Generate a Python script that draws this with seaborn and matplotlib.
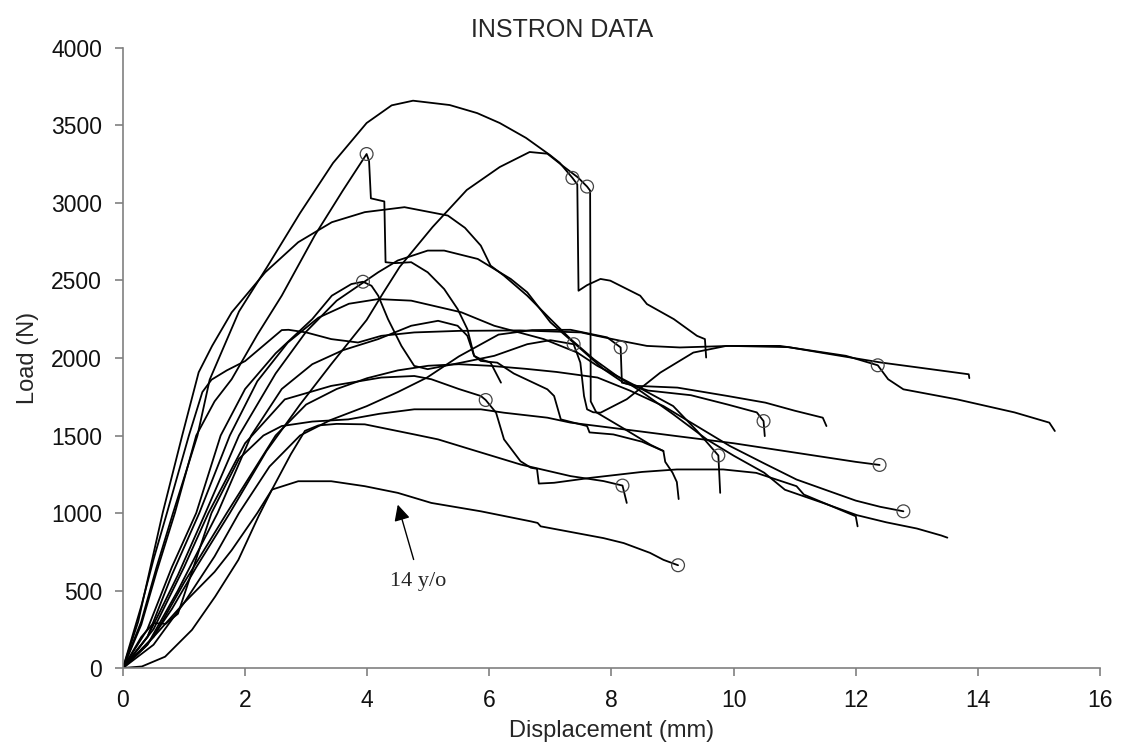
import numpy as np
import pandas as pd
import seaborn as sns
import matplotlib.pyplot as plt

# Curvas carga x deslocamento (mm, N)
curva_a = [(0, 0), (0.3, 300), (0.55, 650), (0.82, 1000), (1.22, 1500), (1.42, 1860), (1.9, 2300),
           (2.36, 2587), (2.9, 2935), (3.44, 3258), (3.99, 3516), (4.4, 3630), (4.75, 3660),
           (5.35, 3632), (5.8, 3580), (6.17, 3516), (6.6, 3420), (6.99, 3310), (7.15, 3260),
           (7.36, 3162), (7.44, 3120), (7.46, 2434), (7.6, 2470), (7.82, 2510), (7.98, 2499),
           (8.47, 2402), (8.58, 2348), (9.02, 2251), (9.4, 2143), (9.53, 2122), (9.55, 2003)]
curva_b = [(0, 0), (0.3, 280), (0.55, 620), (0.85, 1000), (1.2, 1500), (1.5, 1720), (1.78, 1863),
           (2.2, 2150), (2.6, 2402), (3.14, 2790), (3.6, 3080), (3.99, 3316), (4.03, 3270),
           (4.06, 3030), (4.28, 3010), (4.3, 2618), (4.45, 2612), (4.72, 2618), (4.99, 2553),
           (5.26, 2445), (5.48, 2316), (5.64, 2186), (5.75, 2014), (5.86, 1992), (6.02, 1970),
           (6.19, 1841)]
curva_c = [(0, 0), (0.4, 150), (0.8, 380), (1.2, 650), (1.75, 1000), (2.35, 1400), (2.9, 1700),
           (3.41, 1960), (3.99, 2245), (4.26, 2419), (4.53, 2587), (4.8, 2716), (5.07, 2845),
           (5.63, 3084), (6.17, 3232), (6.66, 3329), (6.95, 3318), (7.2, 3240), (7.45, 3165),
           (7.6, 3106), (7.65, 3080), (7.66, 1720), (7.75, 1650), (8.2, 1545), (8.64, 1440),
           (8.85, 1400)]
curva_d = [(0, 0), (0.25, 300), (0.45, 650), (0.65, 1000), (0.97, 1500), (1.24, 1908), (1.46, 2078),
           (1.78, 2294), (2.33, 2553), (2.87, 2747), (3.42, 2876), (3.96, 2941), (4.61, 2973),
           (5.32, 2919), (5.6, 2840), (5.86, 2725), (6.02, 2596), (6.24, 2531), (6.62, 2402),
           (7.0, 2251), (7.33, 2122), (7.71, 1992), (8.09, 1884), (8.5, 1780), (9.0, 1640),
           (9.56, 1475), (10.0, 1370), (10.5, 1260), (10.84, 1150), (11.5, 1060), (12.02, 986),
           (12.5, 940), (13.0, 900), (13.4, 855), (13.5, 841)]
curva_e = [(0, 0), (0.4, 200), (0.9, 600), (1.35, 1000), (1.9, 1500), (2.5, 1900), (3.0, 2170),
           (3.5, 2370), (4.18, 2553), (4.5, 2629), (4.99, 2693), (5.26, 2693), (5.81, 2639),
           (6.35, 2510), (6.62, 2424), (7.0, 2230), (7.44, 2078), (7.87, 1928), (8.2, 1840),
           (8.6, 1790), (9.3, 1760), (9.9, 1700), (10.38, 1649), (10.49, 1593), (10.51, 1496)]
curva_g = [(0, 0), (0.4, 150), (0.9, 500), (1.55, 1000), (2.1, 1500), (2.6, 1800), (3.1, 1960),
           (3.6, 2050), (4.18, 2122), (4.72, 2208), (5.16, 2240), (5.48, 2208), (5.64, 2143),
           (5.75, 2014), (5.86, 1981), (6.13, 1970), (6.4, 1900), (6.95, 1798), (7.06, 1755),
           (7.17, 1604), (7.6, 1561), (7.64, 1520), (8.03, 1507), (8.5, 1460), (8.85, 1400),
           (8.88, 1330), (9.0, 1260), (9.07, 1200), (9.1, 1090)]
curva_h = [(0, 0), (0.4, 250), (0.8, 650), (1.2, 1000), (1.6, 1500), (2.0, 1800), (2.5, 2030),
           (3.1, 2251), (3.42, 2402), (3.74, 2477), (3.93, 2492), (4.07, 2466), (4.18, 2402),
           (4.34, 2251), (4.56, 2078), (4.77, 1949), (4.99, 1928), (5.54, 1970), (6.08, 2014),
           (6.62, 2089), (7.0, 2115), (7.38, 2089), (7.49, 1970), (7.55, 1755), (7.6, 1669),
           (7.7, 1650), (7.82, 1647), (8.25, 1734), (8.8, 1906), (9.34, 2035), (9.88, 2078),
           (10.76, 2078), (11.84, 2014), (12.36, 1953), (12.53, 1863), (12.78, 1798),
           (13.66, 1733), (14.6, 1649), (15.17, 1583), (15.26, 1529)]
curva_i = [(0, 0), (0.3, 400), (0.5, 700), (0.72, 1000), (1.08, 1500), (1.3, 1780), (1.45, 1860),
           (1.7, 1920), (2.0, 1980), (2.3, 2080), (2.6, 2180), (2.71, 2182), (3.0, 2165),
           (3.41, 2122), (3.85, 2100), (4.23, 2143), (4.77, 2165), (5.5, 2175), (6.5, 2178),
           (7.5, 2165), (7.76, 2143), (8.15, 2111), (8.58, 2078), (9.12, 2068), (9.94, 2078),
           (10.9, 2070), (11.5, 2030), (12.41, 1971), (13.0, 1940), (13.85, 1895), (13.86, 1870)]
curva_j = [(0, 0), (0.4, 200), (0.8, 600), (1.25, 1000), (1.75, 1500), (2.2, 1850), (2.7, 2100),
           (3.2, 2260), (3.7, 2350), (4.18, 2380), (4.72, 2370), (5.54, 2295), (6.08, 2208),
           (6.89, 2122), (7.44, 2035), (7.77, 1949), (8.4, 1820), (9.01, 1690), (9.4, 1530),
           (9.75, 1371), (9.78, 1130)]
curva_m = [(0, 0), (0.5, 150), (1.0, 420), (1.5, 720), (1.9, 1000), (2.4, 1300), (2.9, 1500),
           (3.4, 1600), (3.99, 1689), (4.5, 1780), (4.98, 1874), (5.5, 2010), (6.15, 2151),
           (6.7, 2180), (7.33, 2182), (7.93, 2133), (8.15, 2068), (8.17, 1841), (8.42, 1820),
           (9.08, 1809), (9.9, 1755), (10.52, 1712), (11.0, 1660), (11.46, 1615), (11.52, 1561)]
curva_n = [(0, 0), (0.5, 200), (1.0, 550), (1.7, 1000), (2.5, 1500), (3.0, 1700), (3.5, 1800),
           (4.0, 1870), (4.5, 1920), (5.0, 1950), (5.5, 1960), (6.0, 1950), (6.6, 1930),
           (7.1, 1910), (7.77, 1874), (8.3, 1790), (8.85, 1690), (9.4, 1560), (9.94, 1432),
           (10.5, 1320), (11.03, 1216), (11.5, 1150), (12.0, 1080), (12.4, 1040), (12.78, 1011)]
curva_p = [(0, 0), (0.5, 250), (1.0, 650), (1.4, 1000), (2.0, 1450), (2.65, 1733), (3.41, 1820),
           (4.23, 1874), (4.77, 1884), (5.05, 1863), (5.5, 1800), (5.86, 1755), (5.94, 1729),
           (6.11, 1647), (6.24, 1475), (6.51, 1334), (6.68, 1292), (6.78, 1285), (6.81, 1190),
           (7.06, 1195), (7.66, 1227), (8.5, 1265), (9.07, 1281), (9.83, 1281), (10.37, 1259),
           (11.03, 1173), (11.15, 1119), (12.0, 979), (12.03, 914)]
curva_q = [(0, 0), (0.3, 200), (0.5, 290), (0.7, 285), (0.9, 350), (1.45, 1000), (1.9, 1350),
           (2.3, 1500), (2.6, 1561), (3.1, 1590), (3.69, 1604), (4.2, 1640), (4.77, 1669),
           (5.86, 1669), (6.24, 1647), (6.95, 1615), (7.33, 1583), (8.42, 1529), (9.07, 1496),
           (10.0, 1450), (11.0, 1390), (12.0, 1330), (12.39, 1310)]
curva_r = [(0, 0), (0.5, 200), (1.0, 420), (1.5, 620), (1.78, 760), (2.2, 1000), (2.44, 1151),
           (2.75, 1380), (2.98, 1530), (3.2, 1565), (3.5, 1575), (3.96, 1572), (4.77, 1507),
           (5.16, 1475), (5.7, 1410), (6.51, 1313), (7.33, 1238), (7.87, 1206), (8.18, 1177),
           (8.25, 1065)]
curva_s = [(0, 0), (0.31, 10), (0.69, 73), (1.13, 246), (1.51, 461), (1.89, 698), (2.22, 979),
           (2.44, 1151), (2.87, 1205), (3.41, 1205), (3.96, 1173), (4.5, 1130), (5.05, 1065),
           (5.86, 1011), (6.68, 946), (6.79, 936), (6.84, 914), (7.87, 838), (8.2, 806),
           (8.63, 743), (8.85, 698), (9.09, 663)]

# Pontos de falha (círculos)
falha_x = [3.99, 3.93, 7.36, 7.6, 7.38, 8.15, 5.94, 10.49, 9.75, 8.18, 12.36, 12.39, 12.78, 9.09]
falha_y = [3316, 2492, 3162, 3106, 2089, 2068, 1729, 1593, 1371, 1177, 1953, 1310, 1011, 663]

curvas = {'A': curva_a, 'B': curva_b, 'C': curva_c, 'D': curva_d, 'E': curva_e, 'G': curva_g,
          'H': curva_h, 'I': curva_i, 'J': curva_j, 'M': curva_m, 'N': curva_n, 'P': curva_p,
          'Q': curva_q, 'R': curva_r, 'S': curva_s}

linhas = []
for nome, pts in curvas.items():
    for ordem, (x, y) in enumerate(pts):
        linhas.append({'amostra': nome, 'ordem': ordem, 'disp': x, 'load': y})
df = pd.DataFrame(linhas)
df_falha = pd.DataFrame({'disp': falha_x, 'load': falha_y})

sns.set_theme(style="ticks")
plt.rcParams['font.family'] = ['Liberation Sans', 'DejaVu Sans']

fig = plt.figure(figsize=(11.25, 7.51), dpi=100)
ax = fig.add_axes([0.1093, 0.1105, 0.8685, 0.8256])

sns.lineplot(data=df, x='disp', y='load', units='amostra', estimator=None, sort=False,
             color='black', linewidth=1.3, ax=ax)
sns.scatterplot(data=df_falha, x='disp', y='load', marker='o', s=85, ax=ax, zorder=3)
pts = ax.collections[-1]
pts.set_facecolor('none')
pts.set_edgecolor('#444444')
pts.set_linewidth(0.9)

# seta do "14 y/o"
ax.annotate('', xy=(4.5, 1054), xytext=(4.76, 700),
            arrowprops=dict(arrowstyle='-|>', color='black', lw=1.0, mutation_scale=24,
                            shrinkA=0, shrinkB=0))
ax.text(4.83, 555, '14 y/o', ha='center', va='center', fontsize=16,
        family=['Liberation Serif', 'DejaVu Serif'])

ax.set_xlim(0, 16)
ax.set_ylim(0, 4000)
ax.set_xticks(np.arange(0, 17, 2))
ax.set_yticks(np.arange(0, 4001, 500))
ax.tick_params(axis='both', labelsize=16.5, color='#808080', length=6, width=1.2, pad=9,
               labelcolor='#111111')
ax.set_xlabel('Displacement (mm)', fontsize=17, labelpad=6)
ax.set_ylabel('Load (N)', fontsize=17, labelpad=9)
# título centrado na figura, como no original
ax.set_title('INSTRON DATA', fontsize=18, pad=8, x=0.449)
sns.despine(ax=ax)
for s in ['left', 'bottom']:
    ax.spines[s].set_color('#808080')
    ax.spines[s].set_linewidth(1.2)

plt.savefig('out.png', dpi=100)
